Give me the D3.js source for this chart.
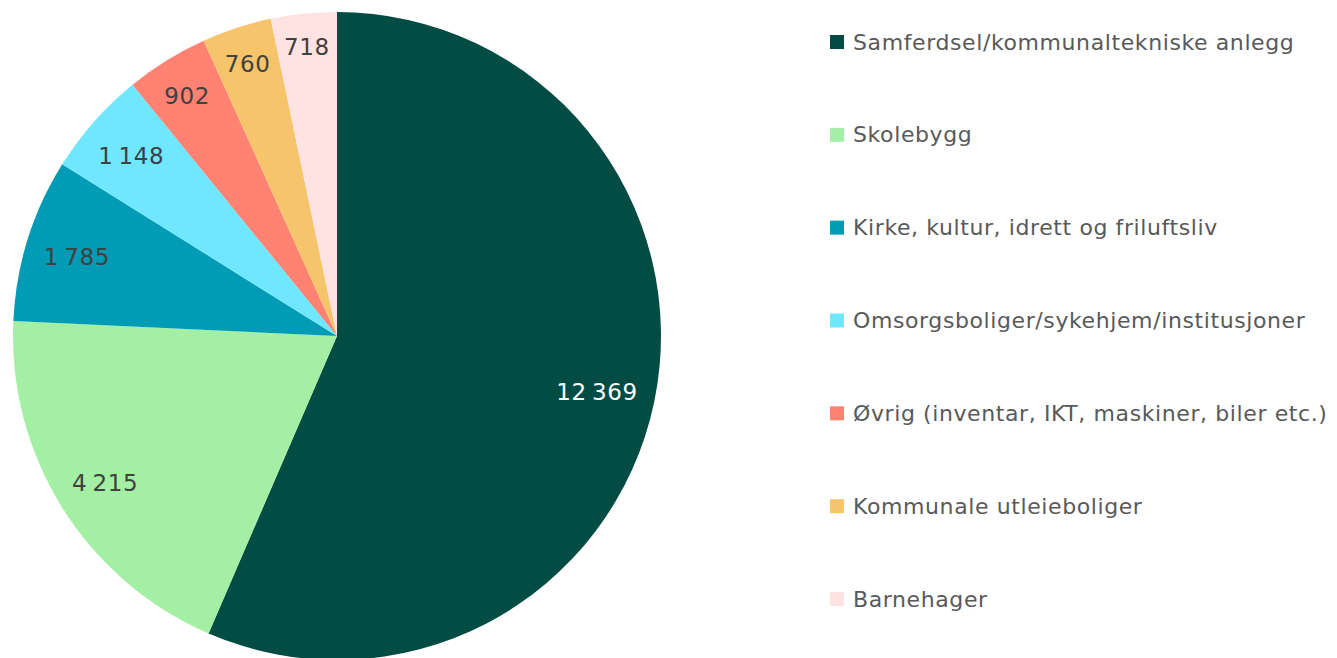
<!DOCTYPE html>
<html><head><meta charset="utf-8">
<script src="https://cdn.jsdelivr.net/npm/d3@7"></script>
<style>body{margin:0;background:#fff;} svg{display:block;}</style>
</head><body>
<svg id="chart" width="1337" height="658"></svg>
<script>
const categories = ["Samferdsel/kommunaltekniske anlegg","Skolebygg","Kirke, kultur, idrett og friluftsliv","Omsorgsboliger/sykehjem/institusjoner","Øvrig (inventar, IKT, maskiner, biler etc.)","Kommunale utleieboliger","Barnehager"];
const values = [12369, 4215, 1785, 1148, 902, 760, 718];
const colors = ["#024C44","#A3EFA3","#009BB5","#6FE8FF","#FF8273","#F5C46B","#FFE3E3"];
const labelColors = ["#ffffff","#404040","#404040","#404040","#404040","#404040","#404040"];

const svg = d3.select("#chart");
const cx = 337, cy = 336, R = 324;
const data = categories.map((c,i)=>({cat:c, value:values[i], color:colors[i], lc:labelColors[i]}));
const pie = d3.pie().value(d=>d.value).sort(null);
const arcs = pie(data);
const arc = d3.arc().innerRadius(0).outerRadius(R);
const g = svg.append("g").attr("transform",`translate(${cx},${cy})`);
g.selectAll("path").data(arcs).enter().append("path")
  .attr("d",arc).attr("fill",d=>d.data.color);

const fmt = v => d3.format(",")(v).replace(/,/g,"\u2009");
const labels = g.selectAll("text.lbl").data(arcs).enter().append("text")
  .attr("class","lbl")
  .attr("font-family","DejaVu Sans")
  .attr("font-size","23px")
  .attr("letter-spacing","0.6px")
  .attr("fill",d=>d.data.lc)
  .attr("text-anchor","middle")
  .attr("dominant-baseline","central")
  .text(d=>fmt(d.data.value));
labels.each(function(d){
  const bb = this.getBBox();
  const w = bb.width, h = 24;
  const a = (d.startAngle+d.endAngle)/2;
  const ux = Math.sin(a), uy = -Math.cos(a);
  const limit = R - 16;
  let r = limit;
  for(; r>0; r-=0.5){
    const x = ux*r, y = uy*r;
    let m = 0;
    [[-1,-1],[1,-1],[-1,1],[1,1]].forEach(([sx,sy])=>{
      const px = x+sx*w/2, py = y+sy*h/2;
      m = Math.max(m, Math.hypot(px,py));
    });
    if(m<=limit) break;
  }
  d3.select(this).attr("x",ux*r).attr("y",uy*r+2);
});

const legend = svg.append("g");
const ly = d3.scalePoint().domain(categories).range([42,599]);
const items = legend.selectAll("g").data(data).enter().append("g")
  .attr("transform",d=>`translate(830,${ly(d.cat)})`);
items.append("rect").attr("x",0).attr("y",-7).attr("width",14).attr("height",14).attr("fill",d=>d.color);
items.append("text").attr("x",23).attr("y",0)
  .attr("dominant-baseline","central")
  .attr("font-family","DejaVu Sans").attr("font-size","22px").attr("fill","#595959")
  .attr("letter-spacing","0.6px")
  .text(d=>d.cat)
  .each(function(){
    const maxW = 1333 - 853;
    const w = this.getComputedTextLength();
    if(w > maxW){ d3.select(this).attr("textLength", maxW).attr("lengthAdjust","spacingAndGlyphs"); }
  });
</script>
</body></html>
